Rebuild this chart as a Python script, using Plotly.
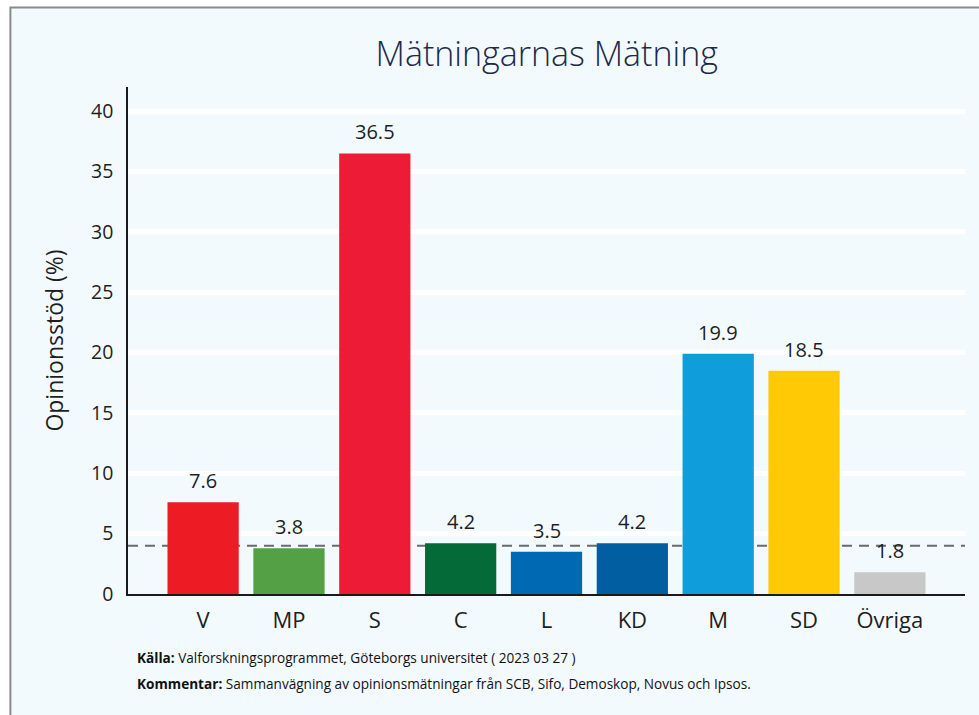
import plotly.graph_objects as go

# Party support, weighted poll average (%)
parties = ["V", "MP", "S", "C", "L", "KD", "M", "SD", "Övriga"]
support = [7.6, 3.8, 36.5, 4.2, 3.5, 4.2, 19.9, 18.5, 1.8]
party_colors = ["#ED1C24", "#53A045", "#EE1B36", "#036A38", "#0069B4",
                "#005EA1", "#109DDB", "#FFCA05", "#C8C8C8"]
threshold = 4.0
y_ticks = [0, 5, 10, 15, 20, 25, 30, 35, 40]

FONT = "Open Sans"
TEXT = "#1e1e1e"

fig = go.Figure()
fig.add_trace(go.Bar(
    x=parties, y=support,
    marker=dict(color=party_colors, line=dict(width=0)),
    width=0.83,
    hoverinfo="x+y",
))

# value labels above each bar
for p, v in zip(parties, support):
    fig.add_annotation(x=p, y=v, text=f"{v:.1f}", showarrow=False,
                       yanchor="bottom", yshift=6,
                       font=dict(family=FONT, size=20, color=TEXT))

# framed light background
fig.add_shape(type="rect", xref="paper", yref="paper",
              x0=-0.1405, x1=1.03, y0=-0.26, y1=1.157, layer="below",
              fillcolor="#F3FAFE", line=dict(color="#8A8A8A", width=2))

# 4 % parliamentary threshold, behind the bars
fig.add_shape(type="line", xref="paper", yref="y", x0=0, x1=1,
              y0=threshold, y1=threshold, layer="below",
              line=dict(color="#6A6A6A", width=2, dash="10px,7px"))

fig.add_annotation(xref="paper", yref="paper", x=0.0085, y=-0.125,
                   xanchor="left", yanchor="middle", showarrow=False,
                   text="<b>Källa:</b> Valforskningsprogrammet, Göteborgs universitet ( 2023 03 27 )",
                   font=dict(family=FONT, size=13.6, color="#111111"))
fig.add_annotation(xref="paper", yref="paper", x=0.0085, y=-0.176,
                   xanchor="left", yanchor="middle", showarrow=False,
                   text="<b>Kommentar:</b> Sammanvägning av opinionsmätningar från SCB, Sifo, Demoskop, Novus och Ipsos.",
                   font=dict(family=FONT, size=13.6, color="#111111"))

fig.update_layout(
    width=979, height=715,
    margin=dict(l=128, r=14, t=87, b=121),
    paper_bgcolor="white",
    plot_bgcolor="rgba(0,0,0,0)",
    showlegend=False,
    title=dict(text="Mätningarnas Mätning", x=0.5585, xanchor="center",
               y=0.924, yanchor="middle",
               font=dict(family=FONT, size=34, color="#1B2A4A", weight=300)),
    xaxis=dict(range=[-0.875, 8.875], showgrid=False, ticks="",
               showline=True, linecolor="#1a1a1a", linewidth=2,
               ticklabelstandoff=6,
               tickfont=dict(family=FONT, size=22, color=TEXT)),
    yaxis=dict(range=[0, 42], tickvals=y_ticks, showgrid=True,
               gridcolor="white", gridwidth=5, zeroline=False,
               showline=True, linecolor="#1a1a1a", linewidth=1.5,
               ticks="", ticklabelstandoff=9,
               tickfont=dict(family=FONT, size=19.5, color=TEXT),
               title=dict(text="Opinionsstöd (%)", standoff=21,
                          font=dict(family=FONT, size=23, color=TEXT))),
)

fig.write_html("out.html")
